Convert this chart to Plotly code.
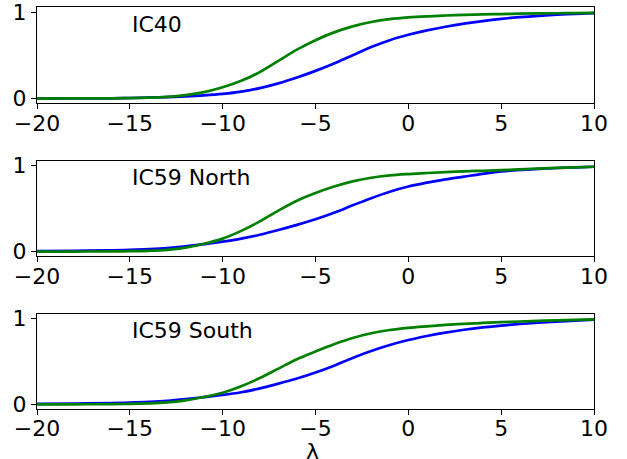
import plotly.graph_objects as go
from plotly.subplots import make_subplots

# lambda grid
lam = [-20, -18, -16, -15, -14, -13, -12, -11, -10, -9, -8, -7, -6, -5, -4,
       -3, -2, -1, 0, 1, 2, 3, 4, 5, 6, 7, 8, 9, 10]

panel_names = ["IC40", "IC59 North", "IC59 South"]
x_label = "λ"

ic40_blue = [0.000, 0.001, 0.003, 0.006, 0.010, 0.016, 0.025, 0.037, 0.054, 0.080,
             0.120, 0.175, 0.243, 0.320, 0.405, 0.500, 0.595, 0.675, 0.737, 0.788,
             0.830, 0.866, 0.896, 0.921, 0.941, 0.957, 0.969, 0.979, 0.988]
ic40_green = [0.000, 0.001, 0.003, 0.005, 0.010, 0.020, 0.040, 0.075, 0.130, 0.205,
              0.305, 0.435, 0.565, 0.675, 0.765, 0.835, 0.885, 0.918, 0.938, 0.951,
              0.960, 0.967, 0.973, 0.977, 0.981, 0.984, 0.986, 0.988, 0.990]

north_blue = [0.004, 0.008, 0.014, 0.020, 0.028, 0.040, 0.060, 0.086, 0.115, 0.150,
              0.195, 0.250, 0.310, 0.375, 0.450, 0.537, 0.620, 0.695, 0.755, 0.800,
              0.838, 0.870, 0.903, 0.930, 0.948, 0.960, 0.970, 0.978, 0.985]
north_green = [0.000, 0.000, 0.002, 0.004, 0.009, 0.020, 0.045, 0.090, 0.150, 0.240,
               0.350, 0.475, 0.590, 0.680, 0.755, 0.815, 0.857, 0.884, 0.900, 0.912,
               0.922, 0.931, 0.938, 0.945, 0.955, 0.963, 0.971, 0.978, 0.985]

south_blue = [0.004, 0.008, 0.014, 0.020, 0.028, 0.040, 0.060, 0.084, 0.108, 0.140,
              0.185, 0.240, 0.300, 0.370, 0.450, 0.540, 0.620, 0.690, 0.748, 0.795,
              0.835, 0.868, 0.895, 0.917, 0.935, 0.950, 0.962, 0.974, 0.987]
south_green = [0.000, 0.000, 0.002, 0.004, 0.010, 0.021, 0.045, 0.085, 0.135, 0.210,
               0.305, 0.415, 0.525, 0.615, 0.700, 0.772, 0.827, 0.865, 0.890, 0.908,
               0.924, 0.937, 0.947, 0.956, 0.964, 0.971, 0.978, 0.984, 0.989]

blues = [ic40_blue, north_blue, south_blue]
greens = [ic40_green, north_green, south_green]

x_ticks = [-20, -15, -10, -5, 0, 5, 10]
y_ticks = [0, 1]

W, H = 627, 459
ml, mr, mt, mb = 37, 33, 7, 50
plot_h = H - mt - mb

def paper_y(py):
    return (H - mb - py) / plot_h

def clamp(v):
    return min(1.0, max(0.0, v))

domains = [
    [clamp(paper_y(103.3)), clamp(paper_y(7.3))],
    [clamp(paper_y(256.3)), clamp(paper_y(160.7))],
    [clamp(paper_y(409.3)), clamp(paper_y(313.7))],
]

fig = make_subplots(rows=3, cols=1)
FONT = "DejaVu Sans"

for i in range(3):
    r = i + 1
    fig.add_trace(go.Scatter(x=lam, y=blues[i], mode="lines", line_shape="spline",
                             line=dict(color="#0000ff", width=2.7), showlegend=False,
                             hoverinfo="skip"), row=r, col=1)
    fig.add_trace(go.Scatter(x=lam, y=greens[i], mode="lines", line_shape="spline",
                             line=dict(color="#008000", width=2.7), showlegend=False,
                             hoverinfo="skip"), row=r, col=1)
    ya = "yaxis" if r == 1 else f"yaxis{r}"
    fig.layout[ya].domain = domains[i]
    fig.update_xaxes(range=[-20, 10], tickvals=x_ticks, ticks="outside", ticklen=5, tickwidth=1,
                     tickcolor="black", showline=True, mirror=True, linecolor="black", linewidth=1,
                     showgrid=False, zeroline=False, automargin=False, ticklabeloverflow="allow",
                     ticklabelstandoff=-5,
                     tickfont=dict(family=FONT, size=22, color="black"), row=r, col=1)
    fig.update_yaxes(range=[-0.055, 1.055], tickvals=y_ticks, ticks="outside", ticklen=5, tickwidth=1,
                     tickcolor="black", showline=True, mirror=True, linecolor="black", linewidth=1,
                     showgrid=False, zeroline=False, automargin=False, ticklabelstandoff=0,
                     ticklabeloverflow="allow",
                     tickfont=dict(family=FONT, size=22, color="black"), row=r, col=1)
    fig.add_annotation(x=-15, y=0.86, xref=f"x{'' if r == 1 else r}", yref=f"y{'' if r == 1 else r}",
                       text=panel_names[i], showarrow=False, xanchor="left", yanchor="middle",
                       font=dict(family=FONT, size=22, color="black"))

# x-axis label under the bottom panel (partly cut by the bottom edge, as in the reference)
fig.add_annotation(x=(312 - ml) / (W - ml - mr), y=paper_y(451), xref="paper", yref="paper",
                   text=x_label, showarrow=False, xanchor="center", yanchor="middle",
                   font=dict(family=FONT, size=22, color="black"))

fig.update_layout(width=W, height=H, margin=dict(l=ml, r=mr, t=mt, b=mb),
                  plot_bgcolor="white", paper_bgcolor="white", template="none",
                  hovermode=False)

fig.write_html("out.html", config={"displayModeBar": False, "staticPlot": True},
               post_script="document.body.style.margin='0px';document.body.style.overflow='hidden';")
